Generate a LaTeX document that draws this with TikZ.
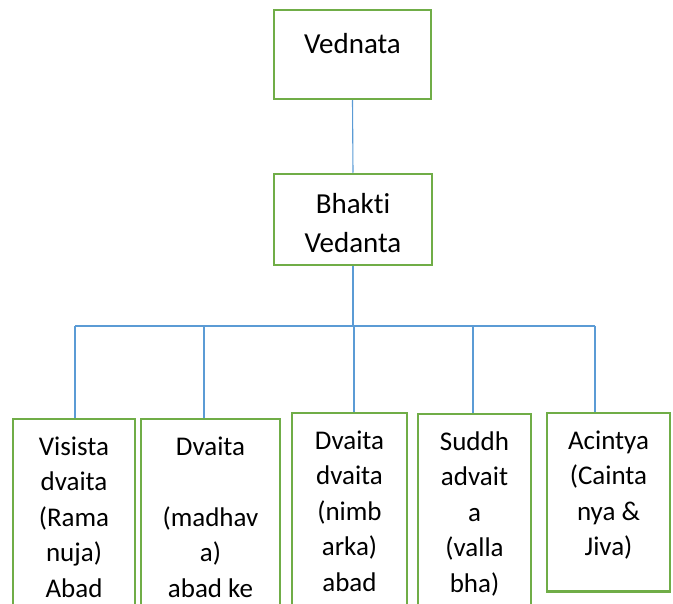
\documentclass[tikz,border=0pt]{standalone}
\usepackage{fontspec}
\setmainfont{Carlito}[Ligatures=NoCommon]
\usepackage{xcolor}
\usetikzlibrary{positioning}

\definecolor{boxgreen}{HTML}{70AD47}
\definecolor{linkblue}{HTML}{5B9BD5}

\tikzset{
  box/.style={draw=boxgreen, line width=2.5pt, inner sep=0pt},
  link/.style={draw=linkblue, line width=1.1pt},
  bigtxt/.style={font=\fontsize{29}{39}\selectfont, align=center, inner sep=0pt, anchor=north},
  smalltxt/.style={font=\fontsize{27}{35.5}\selectfont, align=center, inner sep=0pt, anchor=north}
}

\begin{document}
\begin{tikzpicture}[x=1pt,y=-1pt]

% Page frame
\useasboundingbox (0,0) rectangle (673,604);
\clip (0,0) rectangle (673,604);

% Top boxes
\node[box, minimum width=157pt, minimum height=89pt] (vednata) at (352.5,54.5) {};
\node[bigtxt] (vednata-t) at (352.5,25.7) {\strut Vednata};

\node[box, minimum width=158pt, minimum height=91pt] (bhakti) at (353,219.5) {};
\node[bigtxt] (bhakti-t) at (353,185.7) {\strut Bhakti\\Vedanta};

% Bottom boxes (run past the page edge)
\node[box, anchor=north, minimum width=122pt, minimum height=230pt] (visista) at (74,418) {};
\node[smalltxt] (visista-t) at (74,430.15) {\strut Visista\\dvaita\\(Rama\\nuja)\\Abad};

\node[box, anchor=north, minimum width=139pt, minimum height=230pt] (dvaita) at (210.5,418) {};
\node[smalltxt] (dvaita-t) at (210.5,430.15) {\strut Dvaita\\ \strut\\(madhav\\a)\\abad ke};

\node[box, anchor=north, minimum width=115pt, minimum height=230pt] (nimbarka) at (349.5,412) {};
\node[smalltxt] (nimbarka-t) at (349.5,424.15) {\strut Dvaita\\dvaita\\(nimb\\arka)\\abad};

\node[box, anchor=north, minimum width=113pt, minimum height=230pt] (suddh) at (474.5,413) {};
\node[smalltxt] (suddh-t) at (474.5,425.15) {\strut Suddh\\advait\\a\\(valla\\bha)};

\node[box, anchor=north, minimum width=123pt, minimum height=178pt] (acintya) at (608.5,412) {};
\node[smalltxt] (acintya-t) at (608.5,424.15) {\strut Acintya\\(Cainta\\nya \&\\Jiva)};

% Connectors
\coordinate (d1) at (75,326);
\coordinate (d2) at (204,326);
\coordinate (d3) at (354,326);
\coordinate (d4) at (473,326);
\coordinate (d5) at (595,326);

\draw[link] (vednata.south) -- (bhakti.north);
\draw[link] (bhakti.south) -- (bhakti.south |- d3);
\draw[link] (d1) -- (d5);
\foreach \d/\b in {d1/visista, d2/dvaita, d3/nimbarka, d4/suddh, d5/acintya}
  \draw[link] (\d) -- (\d |- \b.north);

\end{tikzpicture}
\end{document}
